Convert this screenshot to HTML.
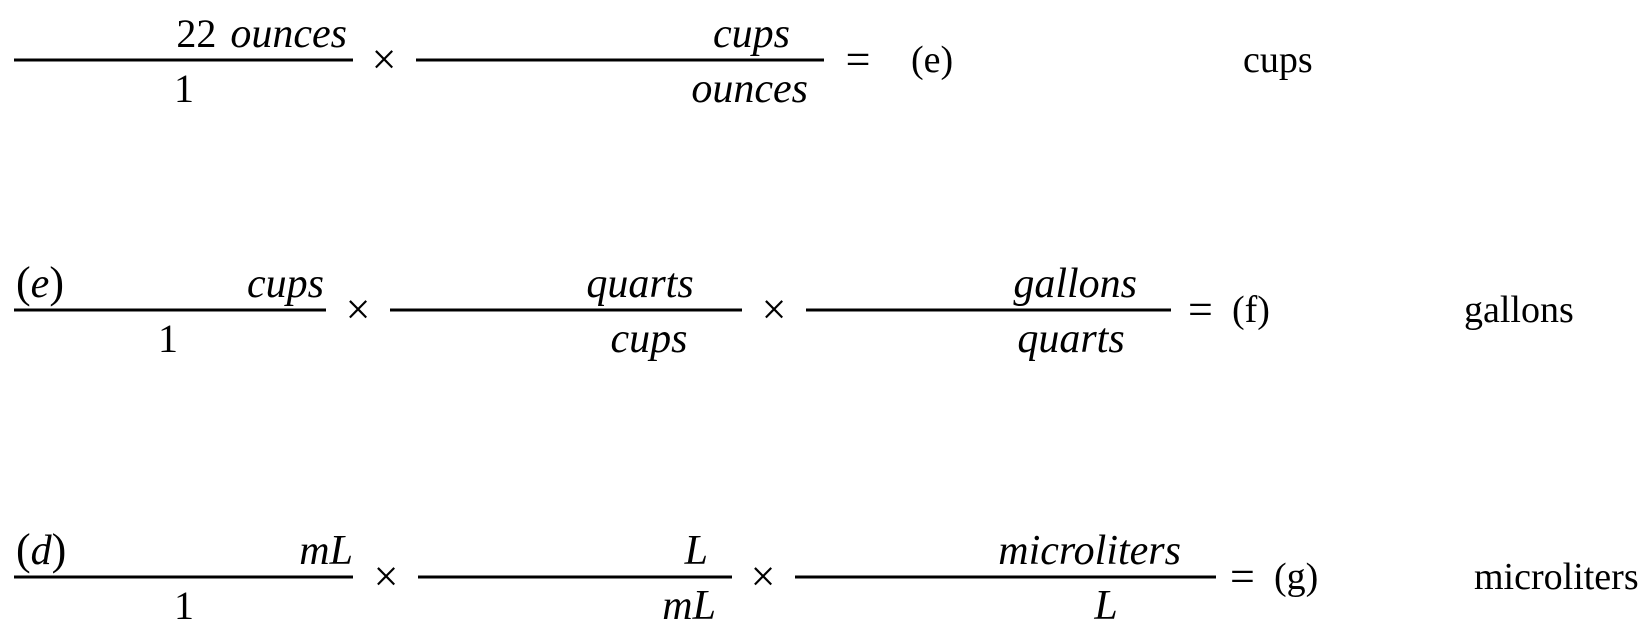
<!DOCTYPE html>
<html><head><meta charset="utf-8"><style>
html,body{margin:0;padding:0;background:#fff;width:1651px;height:630px;overflow:hidden}
svg{display:block}
text{font-family:"Liberation Serif",serif;font-size:40px;fill:#000}
.i{font-style:italic;font-size:42px}
.r{font-size:38px}
.o{font-size:44px}
</style></head><body>
<svg width="1651" height="630" viewBox="0 0 1651 630">
<g stroke="#000" stroke-width="3">
<line x1="14" y1="60" x2="353" y2="60"/>
<line x1="416" y1="60" x2="824" y2="60"/>
<line x1="14" y1="310" x2="326" y2="310"/>
<line x1="390" y1="310" x2="742" y2="310"/>
<line x1="806" y1="310" x2="1171" y2="310"/>
<line x1="14" y1="577" x2="353" y2="577"/>
<line x1="418" y1="577" x2="732" y2="577"/>
<line x1="795" y1="577" x2="1216" y2="577"/>
</g>
<!-- row 1 -->
<text x="347" y="47" text-anchor="end"><tspan>22</tspan><tspan class="i" dx="14">ounces</tspan></text>
<text x="184" y="102" text-anchor="middle">1</text>
<text class="o" x="384" y="74" text-anchor="middle">×</text>
<text class="i" x="790" y="47" text-anchor="end">cups</text>
<text class="i" x="808" y="102" text-anchor="end">ounces</text>
<text class="o" x="858" y="74" text-anchor="middle">=</text>
<text class="r" x="911" y="72">(e)</text>
<text class="r" x="1243" y="72">cups</text>
<!-- row 2 -->
<text class="o" x="16" y="297">(<tspan class="i">e</tspan>)</text>
<text class="i" x="324" y="297" text-anchor="end">cups</text>
<text x="168" y="352" text-anchor="middle">1</text>
<text class="o" x="358" y="324" text-anchor="middle">×</text>
<text class="i" x="640" y="297" text-anchor="middle">quarts</text>
<text class="i" x="649" y="352" text-anchor="middle">cups</text>
<text class="o" x="774" y="324" text-anchor="middle">×</text>
<text class="i" x="1137" y="297" text-anchor="end">gallons</text>
<text class="i" x="1071" y="352" text-anchor="middle">quarts</text>
<text class="o" x="1188" y="324">=</text>
<text class="r" x="1232" y="322">(f)</text>
<text class="r" x="1464" y="322">gallons</text>
<!-- row 3 -->
<text class="o" x="16" y="564">(<tspan class="i">d</tspan>)</text>
<text class="i" x="353" y="564" text-anchor="end">mL</text>
<text x="184" y="619" text-anchor="middle">1</text>
<text class="o" x="386" y="591" text-anchor="middle">×</text>
<text class="i" x="708" y="564" text-anchor="end">L</text>
<text class="i" x="716" y="619" text-anchor="end">mL</text>
<text class="o" x="763" y="591" text-anchor="middle">×</text>
<text class="i" x="1181" y="564" text-anchor="end">microliters</text>
<text class="i" x="1106" y="619" text-anchor="middle">L</text>
<text class="o" x="1230" y="591">=</text>
<text class="r" x="1274" y="589">(g)</text>
<text class="r" x="1474" y="589">microliters</text>
</svg>
</body></html>
